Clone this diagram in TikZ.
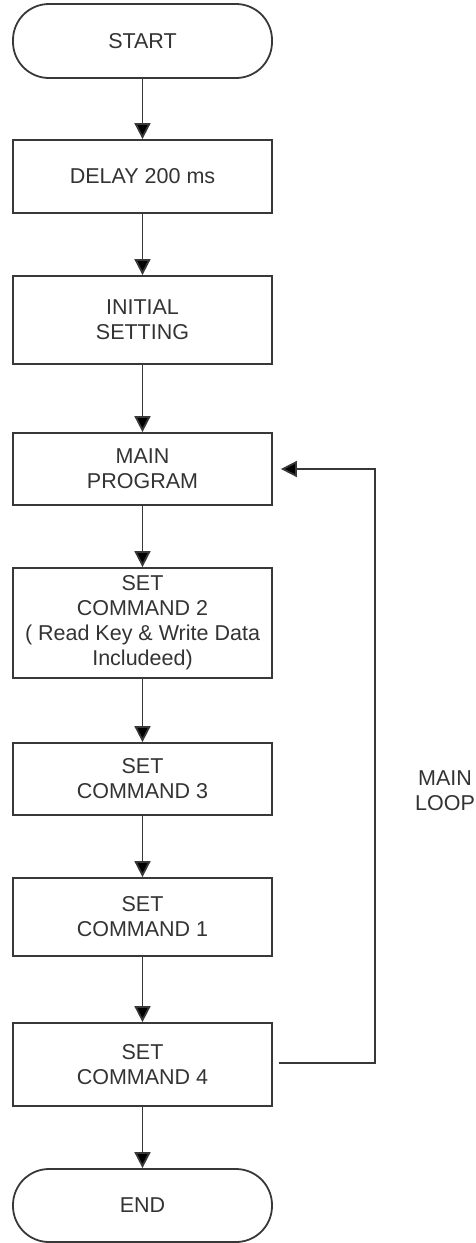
\documentclass[tikz,border=0pt]{standalone}
\usepackage{fontspec}
\setmainfont{Liberation Sans}
\usetikzlibrary{arrows.meta}
\definecolor{ln}{rgb}{0.22,0.22,0.22}
\definecolor{tx}{rgb}{0.2,0.2,0.2}
\begin{document}
\begin{tikzpicture}[x=1pt,y=-1pt,
  every node/.style={text=tx,font=\fontsize{21.5}{25}\selectfont,align=center,inner sep=0pt},
  procbox/.style={draw=ln,line width=1.8pt,rectangle,minimum width=259pt},
  termbox/.style={draw=ln,line width=1.8pt,rectangle,rounded corners=36pt,minimum width=259pt,minimum height=74pt},
  flow/.style={draw=ln,line width=1.8pt,-{Triangle[length=16pt,width=16pt,fill=black]}}]
\useasboundingbox (0,0) rectangle (475,1243);
\node[termbox] (start) at (142.5,41) {START};
\node[procbox,minimum height=73pt] (delay) at (142.5,176.5) {DELAY 200 ms};
\node[procbox,minimum height=88pt] (init) at (142.5,320) {INITIAL\\SETTING};
\node[procbox,minimum height=72pt] (main) at (142.5,469) {MAIN\\PROGRAM};
\node[procbox,minimum height=110pt] (c2) at (142.5,623) {SET\\COMMAND 2\\( Read Key \& Write Data\\Includeed)};
\node[procbox,minimum height=72pt] (c3) at (142.5,779) {SET\\COMMAND 3};
\node[procbox,minimum height=78pt] (c1) at (142.5,917) {SET\\COMMAND 1};
\node[procbox,minimum height=83pt] (c4) at (142.5,1064.5) {SET\\COMMAND 4};
\node[termbox,minimum height=73pt] (end) at (142.5,1205.5) {END};
\node (loop) at (445,791) {MAIN\\LOOP};
\coordinate (r1) at (375,1063);
\coordinate (r2) at (375,469);
\draw[flow] (start) -- (delay);
\draw[flow] (delay) -- (init);
\draw[flow] (init) -- (main);
\draw[flow] (main) -- (c2);
\draw[flow] (c2) -- (c3);
\draw[flow] (c3) -- (c1);
\draw[flow] (c1) -- (c4);
\draw[flow] (c4) -- (end);
\draw[flow,shorten <=6pt,shorten >=8pt] (c4.east |- r1) -- (r1) -- (r2) -- (main.east |- r2);
\end{tikzpicture}
\end{document}
